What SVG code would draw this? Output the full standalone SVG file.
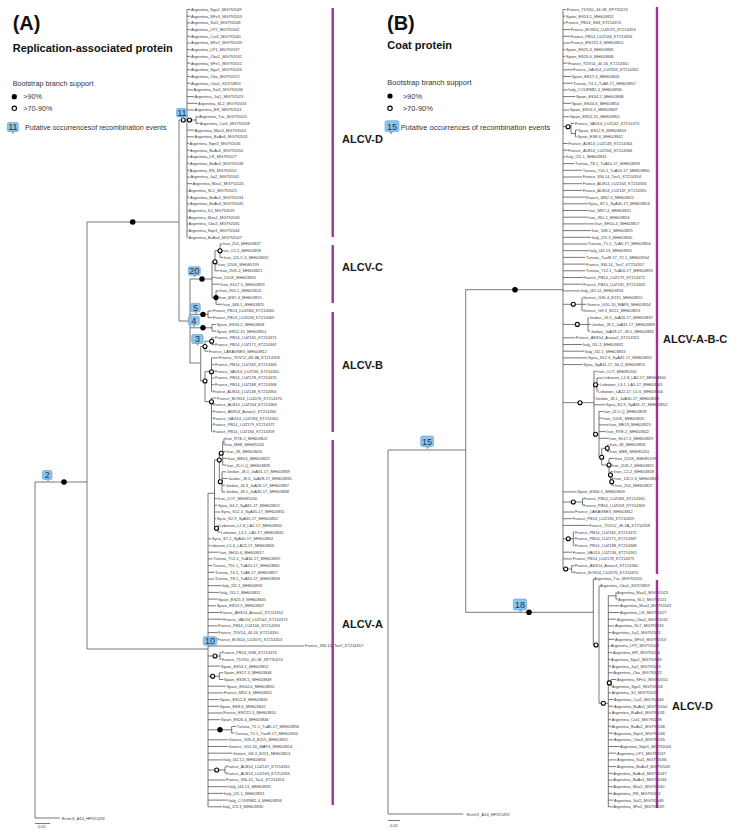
<svg xmlns="http://www.w3.org/2000/svg" width="753" height="830" viewBox="0 0 753 830">
<style>
.lf{font-family:"Liberation Sans",Arial,sans-serif;font-size:4px;fill:#3c3c3c;}
.br{stroke:#555;stroke-width:0.8;fill:none;}
.cb{stroke:#9d3591;stroke-width:2.4;}
.cl{font-family:"Liberation Sans",Arial,sans-serif;font-size:11px;font-weight:bold;fill:#1a1a1a;}
.ttl{font-family:"Liberation Sans",Arial,sans-serif;font-weight:bold;fill:#111;}
.lg{font-family:"Liberation Sans",Arial,sans-serif;fill:#333;}
.fs{fill:#000;}
.os{fill:#fff;stroke:#000;stroke-width:1.1;}
.bdg rect,.bdg path{fill:#8fc4ea;stroke:#5a9dcf;stroke-width:0.6;}
.bdg text{font-family:"Liberation Sans",Arial,sans-serif;font-size:9px;fill:#15334f;text-anchor:middle;}
</style>
<rect width="753" height="830" fill="#fff"/>

<g id="header-A">
<text class="ttl" x="12.7" y="29.5" font-size="20">(A)</text>
<text class="ttl" x="12.7" y="51.5" font-size="11">Replication-associated protein</text>
<text class="lg" x="12.7" y="85.5" font-size="7.2">Bootstrap branch support</text>
<circle class="fs" cx="14.3" cy="96.7" r="2.6"/>
<text class="lg" x="23.3" y="99.3" font-size="7.2">&gt;90%</text>
<circle class="os" cx="14.3" cy="108.3" r="2.2"/>
<text class="lg" x="23.3" y="110.8" font-size="7.2">&gt;70-90%</text>
<g class="bdg"><rect x="7.3" y="122.5" width="11" height="9" rx="1.5"/><path d="M12 131.5l1 2.3l1-2.3z"/><text x="12.8" y="130.3" font-size="9.5">11</text></g>
<text class="lg" x="25" y="129.8" font-size="7.1">Putative occurrencesof recombination events</text>
</g>

<g id="header-B">
<text class="ttl" x="387" y="30" font-size="20">(B)</text>
<text class="ttl" x="387.3" y="49" font-size="11">Coat protein</text>
<text class="lg" x="387.3" y="84.8" font-size="7.5">Bootstrap branch support</text>
<circle class="fs" cx="390" cy="96" r="2.6"/>
<text class="lg" x="402.7" y="99" font-size="7.5">&gt;90%</text>
<circle class="os" cx="390" cy="108.3" r="2.2"/>
<text class="lg" x="402.7" y="111.3" font-size="7.5">&gt;70-90%</text>
<g class="bdg"><rect x="385" y="120.7" width="14" height="11" rx="1.8"/><path d="M390 131.7l1 2.5l1.2-2.5z"/><text x="392" y="130.3" font-size="11">15</text></g>
<text class="lg" x="400.7" y="129.5" font-size="7.4">Putative occurrences of recombination events</text>
</g>

<g id="connectors">
<path class="br" d="M35 482V818M35 818H60M35 482H87M87 222V649M87 222H179M87 649H208M179 120V321M179 120H187M187 9.5V237.3M187 120H196M196 116.7V123.4
M187 9.5H190.4M187 16.2H190.4M187 22.9H190.4M187 29.6H190.4M187 36.3H190.4M187 43H190.4M187 49.7H190.4M187 56.4H190.4M187 63.1H190.4M187 69.8H190.4M187 76.5H190.4M187 83.2H190.4M187 89.9H192.9M187 96.6H193.9M187 103.3H197.4M187 110H193.9M196 116.7H198.4M196 123.4H199.4M187 130.1H193.9M187 136.8H193.9M187 143.5H188.9M187 150.2H189.4M187 156.9H189.4M187 163.6H189.4M187 170.3H188.9M187 177H189.9M187 183.7H191.9M187 190.4H187.9M187 197.1H189.4M187 203.8H189.4M187 210.5H187.9M187 217.2H187.9M187 223.9H187.9M187 230.6H187.9M187 237.3H187.9"/>
<path class="br" d="M179 321H190M190 279V363M190 279H212M212 261.7V297.6M212 261.7H215M215 250.7V270.8M215 250.7H220M220 244V257.4M220 244H222.4M220 250.7H220.9M220 257.4H223.4M215 264.1H217.4M215 270.8H219.4M212 277.5H214.4M212 284.2H220.4M212 297.6H216M216 290.9V304.3M216 290.9H219.4M216 297.6H218.4M216 304.3H222.4"/>
<path class="br" d="M190 314.4H208M208 311V317.7M208 311H212.1M208 317.7H212.1M190 327.8H212M212 324.4V331.1M212 324.4H216.1M212 331.1H216.1M190 363H200.7M200.7 346.5V381M200.7 346.5H205M205 341.2V351.2M205 341.2H211.7M211.7 337.8V344.5M211.7 337.8H214.4M211.7 344.5H214.4M205 351.2H208.4M200.7 381H205M205 371.7V401.7M205 371.7H211.5M211.5 357.9V391.4M211.5 357.9H218.4M211.5 364.6H214.4M211.5 371.3H214.4M211.5 378H214.4M211.5 384.7H214.4M211.5 391.4H212.1M205 401.7H211.5M211.5 398.1V431.6M211.5 398.1H216.4M211.5 404.8H212.4M211.5 411.5H212.4M211.5 418.2H212.4M211.5 424.9H212.4M211.5 431.6H212.4"/>
<path class="br" d="M208 493.3V806.8M208 493.3H214.5M214.5 460V528.3M214.5 460H219.3M219.3 453.3V481.7M219.3 453.3H222.7M222.7 441.7V465.1M222.7 441.7H224M224 438.3V445M224 438.3H224.4M224 445H224.4M222.7 451.7H226.1M222.7 458.4H227.4M222.7 465.1H226.1M219.3 481.7H222M222 471.8V491.9M222 471.8H226.1M222 478.5H227.7M222 485.2H225.1M222 491.9H225.1M214.5 498.6H217.4M214.5 505.3H217.4M214.5 512H220.4M214.5 518.7H216.1M214.5 528.3H218M218 525.4V532.1M218 525.4H218.7M218 532.1H220.4
M208 538.8H211.1M208 545.5H208.7M208 552.2H218.7M208 558.9H212.7M208 565.6H212.1M208 572.3H214.4M208 579H214.4M208 585.7H221.1M208 592.4H219.4M208 599.1H217.7M208 605.8H216.1M208 612.5H219.4M208 619.2H222.7M208 625.9H217.7M208 632.6H217.7M208 639.3H216.7M208 646H304.4M208 666.1H220.4M208 686.2H226.1M208 692.9H223.4M208 699.6H219.4M208 706.3H219.4M208 713H222.7M208 719.7H220.4M208 739.8H227.7M208 746.5H227.7M208 753.2H232.1M208 759.9H222.7M208 780H225.4M208 786.7H227.7M208 793.4H223.4M208 800.1H227.7M208 806.8H222.1
M208 656H220M220 652.7V659.4M220 652.7H221.1M220 659.4H221.1M208 676.2H219.3M219.3 672.8V679.5M219.3 672.8H223.4M219.3 679.5H223.4M208 729.8H231.7M231.7 726.4V733.1M231.7 726.4H236.1M231.7 733.1H234.4M208 770H225M225 766.6V773.3M225 766.6H225.4M225 773.3H225.4"/>
<path class="br" d="M388 450V814M388 450H465.7M388 814H463.3M465.7 289.7V612.3M465.7 289.7H563M563 9.5V569
M563 9.5H566.1M563 16.2H565.4M563 22.9H565.4M563 29.6H570.1M563 36.3H570.1M563 43H570.1M563 49.7H565.4M563 56.4H565.4M563 63.1H567.7M563 69.8H572.7M563 76.5H571.1M563 83.2H572.7M563 89.9H567.7M563 96.6H575.4M563 103.3H571.1M563 110H569.4M563 116.7H569.4M563 143.5H567.7M563 150.2H567.7M563 156.9H565.4M563 163.6H574.4M563 170.3H582.1M563 177H582.1M563 183.7H582.1M563 190.4H582.1M563 197.1H585.4M563 203.8H587.7M563 210.5H587.7M563 217.2H587.7M563 223.9H594.4M563 230.6H591.1M563 237.3H591.1M563 244H587.7M563 250.7H588.7M563 257.4H585.4M563 264.1H585.4M563 270.8H585.4M563 277.5H582.7M563 284.2H582.7M563 290.9H580.1M563 337.8H575.4M563 344.5H582.1M563 351.2H584.4M563 357.9H587.7M563 364.6H582.7M563 491.9H576.7M563 512H574.4M563 518.7H572.1M563 525.4H588.7M563 552.2H572.1M563 558.9H572.1
M563 126.7H571M571 123.4V133.5M571 123.4H574.4M571 133.5H575.5M575.5 130.1V136.8M575.5 130.1H577.7M575.5 136.8H576.7
M563 304.3H582M582 297.6V311M582 304.3H586.1M563 324.4H588M588 317.7V331.1M588 317.7H588.7M588 324.4H591.1M588 331.1H590.1
M563 402.7H594M594 371.3V434.3M594 371.3H596.7M594 384.7H597M597 378V391.4M597 378H602.7M597 384.7H599.4M597 391.4H597.4M594 398.1H595M594 404.8H605.4M594 434.3H599M599 411.5V457.3M599 411.5H602.7M599 418.2H602.7M599 424.9H608.7M599 431.6H606.1M599 438.3H608.7M599 457.3H601.7M601.7 448.3V465M601.7 448.3H607.3M607.3 445V451.7M607.3 445H609.4M607.3 451.7H609.4M601.7 465H609M609 458.4V475M609 458.4H614.4M609 465.1H611.1M609 475H610.5M610.5 471.8V481.8M610.5 471.8H613.7M610.5 481.8H611.7M611.7 478.5V485.2M611.7 478.5H613.7M611.7 485.2H614.4
M563 502H582.5M582.5 498.6V505.3M582.5 498.6H582.7M582.5 505.3H582.7M563 538.8H573.3M573.3 532.1V545.5M573.3 532.1H574.4M573.3 538.8H574.4M573.3 545.5H574.4M563 569H571.7M571.7 565.6V572.3M571.7 565.6H574.4M571.7 572.3H572.7"/>
<path class="br" d="M465.7 612.3H593.3M593.3 579V645M593.3 579H593.6M593.3 645H599M599 585.7V703.3M599 585.7H599.4M599 703.3H608.3M608.3 595.8V806.8M608.3 595.8H616M616 592.4V599.1M616 592.4H616.4M616 599.1H617.4
M608.3 605.8H619.4M608.3 612.5H619.4M608.3 619.2H616.4M608.3 625.9H614.4M608.3 632.6H611.4M608.3 639.3H614.4M608.3 646H610.1M608.3 652.7H612.4M608.3 659.4H610.4M608.3 666.1H611.1M608.3 672.8H612.7M608.3 682.9H611M611 679.5V686.2M611 679.5H616.4M611 686.2H611.4M608.3 692.9H611.1M608.3 699.6H613.4M608.3 706.3H613.4M608.3 713H611.1M608.3 719.7H611.1M608.3 726.4H611.1M608.3 733.1H613.4M608.3 739.8H613.4M608.3 746.5H619.4M608.3 753.2H616.4M608.3 759.9H616.4M608.3 766.6H616.4M608.3 773.3H612.7M608.3 780H612.7M608.3 786.7H612.7M608.3 793.4H612.7M608.3 800.1H613.4M608.3 806.8H612.7"/>
<path class="br" d="M35 823.5H50M388 820.5H400"/>
</g>

<g id="support">
<circle class="fs" cx="132.7" cy="222" r="2.8"/>
<circle class="fs" cx="64" cy="482" r="2.8"/>
<circle class="os" cx="183.3" cy="120" r="2"/>
<circle class="os" cx="189.5" cy="120" r="2"/>
<circle class="fs" cx="202" cy="279" r="2.7"/>
<circle class="os" cx="220" cy="250.7" r="2"/>
<circle class="os" cx="215" cy="261.7" r="2"/>
<circle class="fs" cx="216" cy="297.6" r="2.6"/>
<circle class="fs" cx="203" cy="314.4" r="2.7"/>
<circle class="fs" cx="203" cy="327.8" r="2.7"/>
<circle class="os" cx="205" cy="346.5" r="2"/>
<circle class="os" cx="211.7" cy="341.2" r="2"/>
<circle class="os" cx="205" cy="381" r="2"/>
<circle class="os" cx="211.5" cy="371.7" r="2"/>
<circle class="os" cx="211.5" cy="401.7" r="2"/>
<circle class="os" cx="221.2" cy="453.3" r="2"/>
<circle class="os" cx="219.3" cy="460" r="2"/>
<circle class="os" cx="220.3" cy="481.7" r="2"/>
<circle class="os" cx="216.5" cy="528.3" r="2"/>
<circle class="os" cx="215" cy="656" r="2"/>
<circle class="os" cx="212.7" cy="676.2" r="2"/>
<circle class="fs" cx="220" cy="729.8" r="2.7"/>
<circle class="os" cx="216.7" cy="770" r="2"/>
<circle class="fs" cx="515" cy="289.7" r="2.8"/>
<circle class="fs" cx="529" cy="612.3" r="2.8"/>
<circle class="os" cx="568" cy="126.7" r="2"/>
<circle class="os" cx="573.3" cy="304.3" r="2"/>
<circle class="os" cx="577.3" cy="324.4" r="2"/>
<circle class="os" cx="580" cy="402.7" r="2"/>
<circle class="os" cx="595.5" cy="384.7" r="2"/>
<circle class="os" cx="595.5" cy="434.3" r="2"/>
<circle class="os" cx="601.7" cy="457.3" r="2"/>
<circle class="os" cx="607.3" cy="448.3" r="2"/>
<circle class="os" cx="609" cy="465" r="2"/>
<circle class="os" cx="610.5" cy="475" r="2"/>
<circle class="os" cx="611.7" cy="481.8" r="2"/>
<circle class="os" cx="573.3" cy="502" r="2"/>
<circle class="os" cx="568.3" cy="538.8" r="2"/>
<circle class="os" cx="565.7" cy="569" r="2"/>
<circle class="os" cx="596" cy="645" r="2"/>
<circle class="os" cx="603.3" cy="703.3" r="2"/>
<circle class="os" cx="609.3" cy="682.9" r="2"/>
</g>

<g id="recombination-badges">
<g id="bA11" class="bdg"><rect x="176.5" y="108.5" width="10.5" height="8.5" rx="1.5"/><path d="M181 117l1 2l1-2z"/><text x="181.8" y="115.9" font-size="8.5">11</text></g>
<g id="bA20" class="bdg"><rect x="188.3" y="266.7" width="12" height="8.5" rx="1.5"/><path d="M193.5 275.2l1 2l1-2z"/><text x="194.3" y="274.1" font-size="8.5">20</text></g>
<g id="bA5" class="bdg"><rect x="190.7" y="303.3" width="9.5" height="8.5" rx="1.5"/><path d="M195 311.8l1 2l1-2z"/><text x="195.5" y="310.7" font-size="8.5">5</text></g>
<g id="bA4" class="bdg"><rect x="188.3" y="316.3" width="11" height="8.5" rx="1.5"/><path d="M193 324.8l1 2l1-2z"/><text x="193.8" y="323.7" font-size="8.5">4</text></g>
<g id="bA3" class="bdg"><rect x="191.7" y="334.5" width="11.5" height="9" rx="1.5"/><path d="M196.5 343.5l1 2l1-2z"/><text x="197.4" y="342.3" font-size="9">3</text></g>
<g id="bA10" class="bdg"><rect x="203.3" y="636.7" width="13.3" height="8.5" rx="1.5"/><path d="M209 645.2l1 2l1-2z"/><text x="210" y="644.1" font-size="8.5">10</text></g>
<g id="bA2" class="bdg"><rect x="42.5" y="470.5" width="9.5" height="9" rx="1.5"/><path d="M47 479.5l1 2l1-2z"/><text x="47.3" y="478.3" font-size="9">2</text></g>
<g id="bB15" class="bdg"><rect x="420.7" y="436" width="12.7" height="10.7" rx="1.8"/><path d="M426.5 446.7l1 2.3l1.2-2.3z"/><text x="427" y="445" font-size="10.5">15</text></g>
<g id="bB18" class="bdg"><rect x="513.3" y="599" width="13.3" height="11" rx="1.8"/><path d="M519.5 610l1 2.3l1.2-2.3z"/><text x="520" y="608.4" font-size="10.5">18</text></g>
</g>

<g id="clade-bars">
<path class="cb" d="M332.7 8V237M332.7 245V303M332.7 312V432M332.7 440V805M657 7V574M657 580V808"/>
<text class="cl" x="342" y="143">ALCV-D</text>
<text class="cl" x="342" y="271">ALCV-C</text>
<text class="cl" x="342" y="369">ALCV-B</text>
<text class="cl" x="342" y="628">ALCV-A</text>
<text class="cl" x="663" y="343">ALCV-A-B-C</text>
<text class="cl" x="672" y="710">ALCV-D</text>
</g>

<g id="outgroups">
<text class="lf" x="62" y="819.5">EcmLV_A14_HF921459</text>
<text class="lf" x="466.7" y="815.5">EcmLV_A14_HF921459</text>
<text class="lf" x="38" y="828" font-size="3.2">0.02</text>
<text class="lf" x="390" y="826.5" font-size="3.2">0.02</text>
</g>

<g id="A-ALCV-D">
<text class="lf" x="191" y="10.95">Argentina_Sga2_MG792049</text>
<text class="lf" x="191" y="17.65">Argentina_SFe3_MG792053</text>
<text class="lf" x="191" y="24.35">Argentina_Sal2_MG792048</text>
<text class="lf" x="191" y="31.05">Argentina_LP2_MG792042</text>
<text class="lf" x="191" y="37.75">Argentina_Cat2_MG792040</text>
<text class="lf" x="191" y="44.45">Argentina_SFe2_MG792039</text>
<text class="lf" x="191" y="51.15">Argentina_LP1_MG792037</text>
<text class="lf" x="191" y="57.85">Argentina_Cba2_MG792032</text>
<text class="lf" x="191" y="64.55">Argentina_SFe1_MG792051</text>
<text class="lf" x="191" y="71.25">Argentina_Sga1_MG792026</text>
<text class="lf" x="191" y="77.95">Argentina_Cba_MG792022</text>
<text class="lf" x="191" y="84.65">Argentina_Cba1_KX374859</text>
<text class="lf" x="193.5" y="91.35">Argentina_Sal1_MG792036</text>
<text class="lf" x="194.5" y="98.05">Argentina_Juj1_MG792023</text>
<text class="lf" x="198" y="104.75">Argentina_SL2_MG792033</text>
<text class="lf" x="194.5" y="111.45">Argentina_ER_MG792024</text>
<text class="lf" x="199" y="118.15">Argentina_Tuc_MG792020</text>
<text class="lf" x="200" y="124.85">Argentina_Cat1_MG792028</text>
<text class="lf" x="194.5" y="131.55">Argentina_Mza3_MG792043</text>
<text class="lf" x="194.5" y="138.25">Argentina_BaAs6_MG792031</text>
<text class="lf" x="189.5" y="144.95">Argentina_Nqn3_MG792046</text>
<text class="lf" x="190" y="151.65">Argentina_BaAs5_MG792050</text>
<text class="lf" x="190" y="158.35">Argentina_LR_MG792027</text>
<text class="lf" x="190" y="165.05">Argentina_BaAs2_MG792038</text>
<text class="lf" x="189.5" y="171.75">Argentina_RN_MG792052</text>
<text class="lf" x="190.5" y="178.45">Argentina_Juj2_MG792041</text>
<text class="lf" x="192.5" y="185.15">Argentina_Mza1_MG792025</text>
<text class="lf" x="188.5" y="191.85">Argentina_SL1_MG792021</text>
<text class="lf" x="190" y="198.55">Argentina_BaAs1_MG792034</text>
<text class="lf" x="190" y="205.25">Argentina_BaAs3_MG792045</text>
<text class="lf" x="188.5" y="211.95">Argentina_SJ_MG792029</text>
<text class="lf" x="188.5" y="218.65">Argentina_Mza2_MG792030</text>
<text class="lf" x="188.5" y="225.35">Argentina_Cba3_MG792035</text>
<text class="lf" x="188.5" y="232.05">Argentina_Nqn1_MG792044</text>
<text class="lf" x="188.5" y="238.75">Argentina_BaAs4_MG792047</text>
</g>

<g id="A-ALCV-C">
<text class="lf" x="223" y="245.45">Iran_254_MH603827</text>
<text class="lf" x="221.5" y="252.15">Iran_C2-2_MH603818</text>
<text class="lf" x="224" y="258.85">Iran_12LO-3_MH603819</text>
<text class="lf" x="218" y="265.55">Iran_12UK_MH085199</text>
<text class="lf" x="220" y="272.25">Iran_2UK-2_MH603821</text>
<text class="lf" x="215" y="278.95">Iran_51UK_MH603820</text>
<text class="lf" x="221" y="285.65">Iran_Kh17-5_MH603829</text>
<text class="lf" x="220" y="292.35">Iran_ISU-1_MH603824</text>
<text class="lf" x="219" y="299.05">Iran_MS7-4_MH603815</text>
<text class="lf" x="223" y="305.75">Iran_348-1_MH603825</text>
</g>

<g id="A-ALCV-B">
<text class="lf" x="212.7" y="312.45">France_PB14_LUZ084_KT214365</text>
<text class="lf" x="212.7" y="319.15">France_PB14_LUZ058_KT214369</text>
<text class="lf" x="216.7" y="325.85">Spain_ES34-2_MH603848</text>
<text class="lf" x="216.7" y="332.55">Spain_ES52-15_MH603851</text>
<text class="lf" x="215" y="339.25">France_PB14_LUZ165_KT214371</text>
<text class="lf" x="215" y="345.95">France_PB14_LUZ171_KT214367</text>
<text class="lf" x="209" y="352.65">France_LARAGNE3_MH603812</text>
<text class="lf" x="219" y="359.35">France_TDV12_48-2A_KT214358</text>
<text class="lf" x="215" y="366.05">France_PB14_LUZ182_KT214363</text>
<text class="lf" x="215" y="372.75">France_VAU14_LUZ136_KT214361</text>
<text class="lf" x="215" y="379.45">France_PB14_LUZ178_KT214375</text>
<text class="lf" x="215" y="386.15">France_PB14_LUZ188_KT214368</text>
<text class="lf" x="212.7" y="392.85">France_ALB14_LUZ148_KT214364</text>
<text class="lf" x="217" y="399.55">France_BON14_LUZ076_KT214370</text>
<text class="lf" x="213" y="406.25">France_ALB14_LUZ164_KT214366</text>
<text class="lf" x="213" y="412.95">France_ASS14_Assas1_KT214360</text>
<text class="lf" x="213" y="419.65">France_GAG14_LUZ183_KT214362</text>
<text class="lf" x="213" y="426.35">France_PB14_LUZ179_KT214372</text>
<text class="lf" x="213" y="433.05">France_PB14_LUZ184_KT214359</text>
</g>

<g id="A-ALCV-A">
<text class="lf" x="225" y="439.75">Iran_RTE-2_MH603822</text>
<text class="lf" x="225" y="446.45">Iran_ME8_MH085201</text>
<text class="lf" x="226.7" y="453.15">Iran_38_MH603826</text>
<text class="lf" x="228" y="459.85">Iran_ME13_MH603823</text>
<text class="lf" x="226.7" y="466.55">Iran_ZLO-Q_MH603828</text>
<text class="lf" x="226.7" y="473.25">Jordan_J8-1_JoA31-17_MH603839</text>
<text class="lf" x="228.3" y="479.95">Jordan_J8-5_JoA28-17_MH603835</text>
<text class="lf" x="225.7" y="486.65">Jordan_J4-3_JoA26-17_MH603837</text>
<text class="lf" x="225.7" y="493.35">Jordan_J8-1_JoA30-17_MH603838</text>
<text class="lf" x="218" y="500.05">Iran_CO7_MH085200</text>
<text class="lf" x="218" y="506.75">Syria_S4-2_SyA31-17_MH603853</text>
<text class="lf" x="221" y="513.45">Syria_S12-3_SyA45-17_MH603855</text>
<text class="lf" x="216.7" y="520.15">Syria_S2-9_SyA35-17_MH603852</text>
<text class="lf" x="219.3" y="526.85">Lebanon_L2-8_LA2-17_MH603840</text>
<text class="lf" x="221" y="533.55">Lebanon_L3-1_LA5-17_MH603841</text>
<text class="lf" x="211.7" y="540.25">Syria_S7-1_SyA40-17_MH603854</text>
<text class="lf" x="209.3" y="546.95">Lebanon_L5-6_LA22-17_MH603806</text>
<text class="lf" x="219.3" y="553.65">Iran_SH10-4_MH603817</text>
<text class="lf" x="213.3" y="560.35">Tunisia_T12-1_TuA16-17_MH603859</text>
<text class="lf" x="212.7" y="567.05">Tunisia_T16-1_TuA20-17_MH603860</text>
<text class="lf" x="215" y="573.75">Tunisia_T4-1_TuA8-17_MH603857</text>
<text class="lf" x="215" y="580.45">Tunisia_T8-1_TuA10-17_MH603858</text>
<text class="lf" x="221.7" y="587.15">Italy_I32-1_MH603833</text>
<text class="lf" x="220" y="593.85">Italy_I31-2_MH603832</text>
<text class="lf" x="218.3" y="600.55">Spain_ES25-3_MH603845</text>
<text class="lf" x="216.7" y="607.25">Spain_ES53-3_MH603847</text>
<text class="lf" x="220" y="613.95">France_ASS14_Assas2_KT214352</text>
<text class="lf" x="223.3" y="620.65">France_VAU14_LUZ142_KT214373</text>
<text class="lf" x="218.3" y="627.35">France_PB14_LUZ166_KT214356</text>
<text class="lf" x="218.3" y="634.05">France_TDV14_44-16_KT214350</text>
<text class="lf" x="217.3" y="640.75">France_BON14_LUZ075_KT214353</text>
<text class="lf" x="305" y="647.45">France_SSL14_Tou7_KT214357</text>
<text class="lf" x="221.7" y="654.15">France_PB14_SS8_KT214374</text>
<text class="lf" x="221.7" y="660.85">France_TDV10_44-1E_KP732474</text>
<text class="lf" x="221" y="667.55">Spain_ES53-1_MH603852</text>
<text class="lf" x="224" y="674.25">Spain_ES17-3_MH603844</text>
<text class="lf" x="224" y="680.95">Spain_ES36-5_MH603849</text>
<text class="lf" x="226.7" y="687.65">Spain_ES44-6_MH603850</text>
<text class="lf" x="224" y="694.35">France_MS2-3_MH603811</text>
<text class="lf" x="220" y="701.05">Spain_ES12-8_MH603843</text>
<text class="lf" x="220" y="707.75">Spain_ES8-6_MH603842</text>
<text class="lf" x="223.3" y="714.45">France_ENTZ2-3_MH603810</text>
<text class="lf" x="221" y="721.15">Spain_ES26-4_MH603846</text>
<text class="lf" x="236.7" y="727.85">Tunisia_T1-1_TuA5-17_MH603856</text>
<text class="lf" x="235" y="734.55">Tunisia_T2-1_TuaI8-17_MH603904</text>
<text class="lf" x="228.3" y="741.25">Greece_G35-4_E215_MH603815</text>
<text class="lf" x="228.3" y="747.95">Greece_G10-16_WAP4_MH603814</text>
<text class="lf" x="232.7" y="754.65">Greece_G8-3_E221_MH603813</text>
<text class="lf" x="223.3" y="761.35">Italy_I42-5J_MH603834</text>
<text class="lf" x="226" y="768.05">France_ALB14_LUZ147_KT214355</text>
<text class="lf" x="226" y="774.75">France_ALB14_LUZ163_KT214356</text>
<text class="lf" x="226" y="781.45">France_SSL14_Tou1_KT214354</text>
<text class="lf" x="228.3" y="788.15">Italy_I44-13_MH603835</text>
<text class="lf" x="224" y="794.85">Italy_I25-1_MH603831</text>
<text class="lf" x="228.3" y="801.55">Italy_COURMI2-4_MH603836</text>
<text class="lf" x="222.7" y="808.25">Italy_I23-3_MH603830</text>
</g>

<g id="B-ALCV-ABC">
<text class="lf" x="566.7" y="10.95">France_TDV10_44-1E_KP732474</text>
<text class="lf" x="566" y="17.65">Spain_ES53-1_MH603852</text>
<text class="lf" x="566" y="24.35">France_PB14_SS8_KT214374</text>
<text class="lf" x="570.7" y="31.05">France_BON14_LUZ075_KT214353</text>
<text class="lf" x="570.7" y="37.75">France_PB14_LUZ166_KT214356</text>
<text class="lf" x="570.7" y="44.45">France_ENTZ2-3_MH603810</text>
<text class="lf" x="566" y="51.15">Spain_ES25-3_MH603845</text>
<text class="lf" x="566" y="57.85">Spain_ES26-4_MH603846</text>
<text class="lf" x="568.3" y="64.55">France_TDV14_44-16_KT214350</text>
<text class="lf" x="573.3" y="71.25">France_GAG14_LUZ183_KT214362</text>
<text class="lf" x="571.7" y="77.95">Spain_ES17-3_MH603844</text>
<text class="lf" x="573.3" y="84.65">Tunisia_T4-1_TuA8-17_MH603857</text>
<text class="lf" x="568.3" y="91.35">Italy_COURMI2-4_MH603836</text>
<text class="lf" x="576" y="98.05">Spain_ES34-2_MH603848</text>
<text class="lf" x="571.7" y="104.75">Spain_ES44-6_MH603850</text>
<text class="lf" x="570" y="111.45">Spain_ES53-3_MH603847</text>
<text class="lf" x="570" y="118.15">Spain_ES52-15_MH603851</text>
<text class="lf" x="575" y="124.85">France_VAU14_LUZ142_KT214373</text>
<text class="lf" x="578.3" y="131.55">Spain_ES12-8_MH603843</text>
<text class="lf" x="577.3" y="138.25">Spain_ES8-6_MH603842</text>
<text class="lf" x="568.3" y="144.95">France_ALB14_LUZ148_KT214364</text>
<text class="lf" x="568.3" y="151.65">France_ALB14_LUZ164_KT214366</text>
<text class="lf" x="566" y="158.35">Italy_I25-1_MH603831</text>
<text class="lf" x="575" y="165.05">Tunisia_T8-1_TuA10-17_MH603858</text>
<text class="lf" x="582.7" y="171.75">Tunisia_T16-1_TuA20-17_MH603860</text>
<text class="lf" x="582.7" y="178.45">France_SSL14_Tou1_KT214354</text>
<text class="lf" x="582.7" y="185.15">France_ALB14_LUZ163_KT214356</text>
<text class="lf" x="582.7" y="191.85">France_ALB14_LUZ147_KT214355</text>
<text class="lf" x="586" y="198.55">France_MS2-3_MH603811</text>
<text class="lf" x="588.3" y="205.25">Syria_S7-1_SyA40-17_MH603854</text>
<text class="lf" x="588.3" y="211.95">Iran_MS7-4_MH603815</text>
<text class="lf" x="588.3" y="218.65">Iran_ISU-1_MH603824</text>
<text class="lf" x="595" y="225.35">Iran_SH10-4_MH603817</text>
<text class="lf" x="591.7" y="232.05">Iran_348-1_MH603825</text>
<text class="lf" x="591.7" y="238.75">Italy_I23-3_MH603830</text>
<text class="lf" x="588.3" y="245.45">Tunisia_T1-1_TuA5-17_MH603856</text>
<text class="lf" x="589.3" y="252.15">Italy_I44-13_MH603835</text>
<text class="lf" x="586" y="258.85">Tunisia_TuaI8-17_T2-1_MH603904</text>
<text class="lf" x="586" y="265.55">France_SSL14_Tou7_KT214357</text>
<text class="lf" x="586" y="272.25">Tunisia_T12-1_TuA16-17_MH603859</text>
<text class="lf" x="583.3" y="278.95">France_PB14_LUZ179_KT214372</text>
<text class="lf" x="583.3" y="285.65">France_PB14_LUZ182_KT214363</text>
<text class="lf" x="580.7" y="292.35">Italy_I42-5J_MH603834</text>
<text class="lf" x="582.7" y="299.05">Greece_G35-4_E215_MH603815</text>
<text class="lf" x="586.7" y="305.75">Greece_G10-16_WAP4_MH603814</text>
<text class="lf" x="582.7" y="312.45">Greece_G8-3_E221_MH603813</text>
<text class="lf" x="589.3" y="319.15">Jordan_J4-3_JoA26-17_MH603837</text>
<text class="lf" x="591.7" y="325.85">Jordan_J8-1_JoA31-17_MH603839</text>
<text class="lf" x="590.7" y="332.55">Jordan_JoA28-17_J8-5_MH603835</text>
<text class="lf" x="576" y="339.25">France_ASS14_Assas2_KT214352</text>
<text class="lf" x="582.7" y="345.95">Italy_I31-2_MH603832</text>
<text class="lf" x="585" y="352.65">Italy_I32-1_MH603833</text>
<text class="lf" x="588.3" y="359.35">Syria_S12-3_SyA45-17_MH603855</text>
<text class="lf" x="583.3" y="366.05">Syria_SyA31-17_S4-2_MH603853</text>
<text class="lf" x="597.3" y="372.75">Iran_CO7_MH085200</text>
<text class="lf" x="603.3" y="379.45">Lebanon_L2-8_LA2-17_MH603840</text>
<text class="lf" x="600" y="386.15">Lebanon_L3-1_LA5-17_MH603841</text>
<text class="lf" x="598" y="392.85">Lebanon_LA22-17_L5-6_MH603806</text>
<text class="lf" x="595.6" y="399.55">Jordan_J8-1_JoA30-17_MH603838</text>
<text class="lf" x="606" y="406.25">Syria_S2-9_SyA35-17_MH603852</text>
<text class="lf" x="603.3" y="412.95">Iran_ZLO-Q_MH603828</text>
<text class="lf" x="603.3" y="419.65">Iran_51UK_MH603820</text>
<text class="lf" x="609.3" y="426.35">Iran_ME13_MH603823</text>
<text class="lf" x="606.7" y="433.05">Iran_RTE-2_MH603822</text>
<text class="lf" x="609.3" y="439.75">Iran_Kh17-5_MH603829</text>
<text class="lf" x="610" y="446.45">Iran_38_MH603826</text>
<text class="lf" x="610" y="453.15">Iran_ME8_MH085201</text>
<text class="lf" x="615" y="459.85">Iran_12UK_MH085199</text>
<text class="lf" x="611.7" y="466.55">Iran_2UK-2_MH603821</text>
<text class="lf" x="614.3" y="473.25">Iran_C2-2_MH603818</text>
<text class="lf" x="614.3" y="479.95">Iran_12LO-3_MH603819</text>
<text class="lf" x="615" y="486.65">Iran_254_MH603827</text>
<text class="lf" x="577.3" y="493.35">Spain_ES36-5_MH603849</text>
<text class="lf" x="583.3" y="500.05">France_PB14_LUZ084_KT214365</text>
<text class="lf" x="583.3" y="506.75">France_PB14_LUZ058_KT214369</text>
<text class="lf" x="575" y="513.45">France_LARAGNE3_MH603812</text>
<text class="lf" x="572.7" y="520.15">France_PB14_LUZ184_KT214359</text>
<text class="lf" x="589.3" y="526.85">France_TDV12_48-2A_KT214358</text>
<text class="lf" x="575" y="533.55">France_PB14_LUZ165_KT214371</text>
<text class="lf" x="575" y="540.25">France_PB14_LUZ171_KT214367</text>
<text class="lf" x="575" y="546.95">France_PB14_LUZ188_KT214368</text>
<text class="lf" x="572.7" y="553.65">France_VAU14_LUZ136_KT214361</text>
<text class="lf" x="572.7" y="560.35">France_PB14_LUZ178_KT214375</text>
<text class="lf" x="575" y="567.05">France_ASS14_Assas1_KT214360</text>
<text class="lf" x="573.3" y="573.75">France_BON14_LUZ076_KT214370</text>
</g>

<g id="B-ALCV-D">
<text class="lf" x="594" y="580.45">Argentina_Tuc_MG792020</text>
<text class="lf" x="600" y="587.15">Argentina_Cba1_KX374859</text>
<text class="lf" x="617" y="593.85">Argentina_Mza1_MG792025</text>
<text class="lf" x="618" y="600.55">Argentina_SL1_MG792021</text>
<text class="lf" x="620" y="607.25">Argentina_Mza3_MG792043</text>
<text class="lf" x="620" y="613.95">Argentina_LR_MG792027</text>
<text class="lf" x="617" y="620.65">Argentina_Cba2_MG792032</text>
<text class="lf" x="615" y="627.35">Argentina_SL2_MG792033</text>
<text class="lf" x="612" y="634.05">Argentina_Juj2_MG792041</text>
<text class="lf" x="615" y="640.75">Argentina_SFe3_MG792053</text>
<text class="lf" x="610.7" y="647.45">Argentina_LP2_MG792042</text>
<text class="lf" x="613" y="654.15">Argentina_ER_MG792024</text>
<text class="lf" x="611" y="660.85">Argentina_Sga2_MG792049</text>
<text class="lf" x="611.7" y="667.55">Argentina_Juj1_MG792023</text>
<text class="lf" x="613.3" y="674.25">Argentina_Cba_MG792022</text>
<text class="lf" x="617" y="680.95">Argentina_SFe1_MG792051</text>
<text class="lf" x="612" y="687.65">Argentina_Sga1_MG792026</text>
<text class="lf" x="611.7" y="694.35">Argentina_SJ_MG792029</text>
<text class="lf" x="614" y="701.05">Argentina_Cat2_MG792040</text>
<text class="lf" x="614" y="707.75">Argentina_BaAs5_MG792050</text>
<text class="lf" x="611.7" y="714.45">Argentina_BaAs6_MG792031</text>
<text class="lf" x="611.7" y="721.15">Argentina_Cat1_MG792028</text>
<text class="lf" x="611.7" y="727.85">Argentina_BaAs2_MG792038</text>
<text class="lf" x="614" y="734.55">Argentina_Nqn3_MG792046</text>
<text class="lf" x="614" y="741.25">Argentina_Cba3_MG792035</text>
<text class="lf" x="620" y="747.95">Argentina_Nqn1_MG792044</text>
<text class="lf" x="617" y="754.65">Argentina_LP1_MG792037</text>
<text class="lf" x="617" y="761.35">Argentina_Sal1_MG792036</text>
<text class="lf" x="617" y="768.05">Argentina_BaAs3_MG792045</text>
<text class="lf" x="613.3" y="774.75">Argentina_BaAs4_MG792047</text>
<text class="lf" x="613.3" y="781.45">Argentina_BaAs1_MG792034</text>
<text class="lf" x="613.3" y="788.15">Argentina_Mza2_MG792030</text>
<text class="lf" x="613.3" y="794.85">Argentina_RN_MG792052</text>
<text class="lf" x="614" y="801.55">Argentina_Sal2_MG792048</text>
<text class="lf" x="613.3" y="808.25">Argentina_SFe2_MG792039</text>
</g>
</svg>
